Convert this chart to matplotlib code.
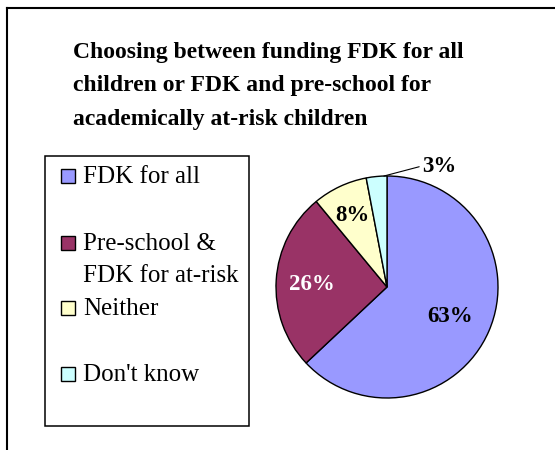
import matplotlib
matplotlib.use("Agg")
import matplotlib.pyplot as plt
from matplotlib.patches import Rectangle
from matplotlib.lines import Line2D
import numpy as np

title_lines = ["Choosing between funding FDK for all",
               "children or FDK and pre-school for",
               "academically at-risk children"]
categories = ["FDK for all", "Pre-school &\nFDK for at-risk", "Neither", "Don't know"]
values = [63, 26, 8, 3]
colors = ["#9999FF", "#993366", "#FFFFCC", "#CCFFFF"]
label_colors = ["black", "white", "black", "black"]

plt.rcParams['font.family'] = ['Liberation Serif', 'DejaVu Serif']

W, H = 555, 450
fig = plt.figure(figsize=(W / 100, H / 100), dpi=100)

def fx(px):
    return px / W

def fy(py):
    return 1 - py / H

# outer frame (left and top edges visible)
fig.add_artist(Line2D([fx(7), fx(7)], [fy(8), fy(452)], color="black", lw=1.5, transform=fig.transFigure))
fig.add_artist(Line2D([fx(7), fx(560)], [fy(8), fy(8)], color="black", lw=1.5, transform=fig.transFigure))

# title
for i, line in enumerate(title_lines):
    fig.text(fx(73), fy(58 + 33.5 * i), line, ha="left", va="baseline", fontsize=17,
             fontweight="bold")

# pie
cx, cy, r = 387, 287, 111
ax = fig.add_axes([fx(cx - r), fy(cy + r), 2 * r / W, 2 * r / H])
wedges, _ = ax.pie(values, colors=colors, startangle=90, counterclock=False,
                   wedgeprops=dict(edgecolor="black", linewidth=1.0))
ax.set_xlim(-1, 1)
ax.set_ylim(-1, 1)
ax.set_aspect("equal")
ax.axis("off")

dists = [0.62, 0.68, 0.73, None]
for w, v, d, lc in zip(wedges, values, dists, label_colors):
    ang = np.deg2rad((w.theta1 + w.theta2) / 2)
    if d is not None:
        ax.text(d * np.cos(ang), d * np.sin(ang) - 0.02, f"{v}%", ha="center", va="center",
                fontsize=16.5, fontweight="bold", color=lc)
    else:
        a0 = np.deg2rad(w.theta1 + 0.15 * (w.theta2 - w.theta1))
        x0, y0 = np.cos(a0), np.sin(a0)
        ax.annotate(f"{v}%", xy=(x0, y0), xytext=(0.315, 1.09), ha="left", va="center",
                    fontsize=16.5, fontweight="bold", color=lc,
                    arrowprops=dict(arrowstyle="-", color="black", lw=0.8,
                                    shrinkA=0, shrinkB=0, relpos=(0, 0.5)),
                    annotation_clip=False)

# legend box
lx0, ly0, lx1, ly1 = 45, 156, 249, 426
fig.add_artist(Rectangle((fx(lx0), fy(ly1)), fx(lx1) - fx(lx0), fy(ly0) - fy(ly1),
                         transform=fig.transFigure, facecolor="white", edgecolor="black", lw=1.1))
baselines = [183, 250, 315, 381]
for lab, col, yb in zip(categories, colors, baselines):
    s = 14
    fig.add_artist(Rectangle((fx(61), fy(yb)), s / W, s / H, transform=fig.transFigure,
                             facecolor=col, edgecolor="black", lw=1.0))
    for k, part in enumerate(lab.split("\n")):
        fig.text(fx(83), fy(yb + 32 * k), part, ha="left", va="baseline", fontsize=18)

fig.savefig("out.png", dpi=100)
